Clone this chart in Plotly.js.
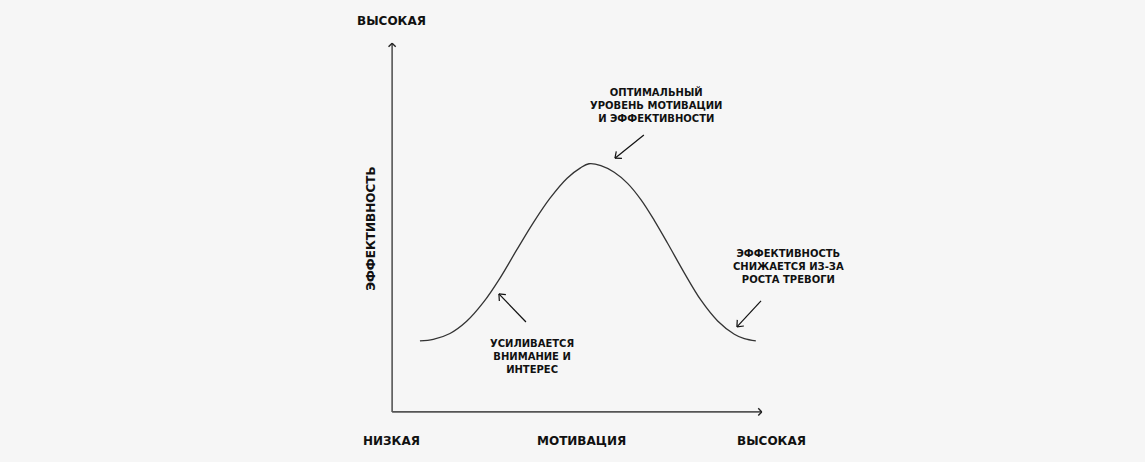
<!DOCTYPE html>
<html>
<head>
<meta charset="utf-8">
<script src="https://cdn.plot.ly/plotly-3.0.1.min.js"></script>
<style>html,body{margin:0;padding:0;background:#f6f6f6;}#chart{width:1145px;height:462px;}</style>
</head>
<body>
<div id="chart"></div>
<script>
// Curve: motivation (x) vs performance (y), 0-100 scale
const motivation = [7.5, 11.1, 15.6, 20.1, 24.6, 29.1, 33.6, 38.1, 42.6, 47.2, 50.8, 53.1, 56.3, 59.9, 63.5, 67.1, 70.7, 74.3, 78.8, 83.3, 87.8, 92.3, 95.0, 98.1];
const performance = [19.2, 19.6, 21.2, 24.5, 29.6, 36.2, 43.8, 51.2, 57.8, 63.2, 66.0, 67.1, 66.6, 64.8, 61.8, 57.4, 51.8, 45.6, 37.6, 30.2, 24.6, 21.0, 19.8, 19.2];

// Pointer arrows: tail -> tip
const arrowTailX = [67.9, 36.1, 99.5];
const arrowTailY = [74.9, 24.3, 30.0];
const arrowTipX = [60.1, 28.8, 93.0];
const arrowTipY = [68.6, 31.9, 23.0];

// Text labels
const yAxisTitle = 'ЭФФЕКТИВНОСТЬ';
const xAxisTitle = 'МОТИВАЦИЯ';
const lowLabel = 'НИЗКАЯ';
const highLabel = 'ВЫСОКАЯ';
const noteTexts = [
  'ОПТИМАЛЬНЫЙ<br>УРОВЕНЬ МОТИВАЦИИ<br>И ЭФФЕКТИВНОСТИ',
  'УСИЛИВАЕТСЯ<br>ВНИМАНИЕ И<br>ИНТЕРЕС',
  'ЭФФЕКТИВНОСТЬ<br>СНИЖАЕТСЯ ИЗ-ЗА<br>РОСТА ТРЕВОГИ'
];
const noteX = [71.2, 37.7, 107.0];
const noteY = [83.0, 14.9, 39.2];

const W = 1145, H = 462;
const R0 = -3, R1 = 103;
const sx = 3.71, sy = 3.7;           // px per unit
const mL = 392 + R0 * sx;            // x=0 at px 392
const pw = (R1 - R0) * sx;
const mR = W - mL - pw;
const mB = (H - 412) + R0 * sy;      // y=0 at px 412
const ph = (R1 - R0) * sy;
const mT = H - mB - ph;

// helper to build chevron arrow head segments (in data units, aspect-corrected)
function headSegs(x0, y0, x1, y1, len, ang) {
  const dx = (x1 - x0) * sx, dy = (y1 - y0) * sy;
  const L = Math.hypot(dx, dy);
  const ux = dx / L, uy = dy / L;
  const xs = [], ys = [];
  [ang, -ang].forEach(a => {
    const c = Math.cos(a), s = Math.sin(a);
    const bx = -(ux * c - uy * s), by = -(ux * s + uy * c);
    xs.push(x1, x1 + bx * len / sx, null);
    ys.push(y1, y1 + by * len / sy, null);
  });
  return [xs, ys];
}

const traces = [];
// axes lines
const axX = [0, 0, null, 0, 99.7];
const axY = [99.7, 0, null, 0, 0];
traces.push({x: axX, y: axY, mode: 'lines', line: {color: '#555', width: 1.6}, hoverinfo: 'skip', showlegend: false});
let h1 = headSegs(0, 0, 0, 99.7, 5, 0.8);
let h2 = headSegs(0, 0, 99.7, 0, 5, 0.8);
traces.push({x: h1[0].concat(h2[0]), y: h1[1].concat(h2[1]), mode: 'lines', line: {color: '#222', width: 1.4}, hoverinfo: 'skip', showlegend: false});

// curve
traces.push({x: motivation, y: performance, mode: 'lines', line: {color: '#333', width: 1.3, shape: 'spline', smoothing: 1}, hoverinfo: 'skip', showlegend: false});

// pointer arrows
let ax = [], ay = [];
for (let i = 0; i < arrowTailX.length; i++) {
  ax.push(arrowTailX[i], arrowTipX[i], null);
  ay.push(arrowTailY[i], arrowTipY[i], null);
  const h = headSegs(arrowTailX[i], arrowTailY[i], arrowTipX[i], arrowTipY[i], 7, 0.7);
  ax = ax.concat(h[0]); ay = ay.concat(h[1]);
}
traces.push({x: ax, y: ay, mode: 'lines', line: {color: '#111', width: 1.2}, hoverinfo: 'skip', showlegend: false});

const fontBig = {family: 'DejaVu Sans', size: 12, color: '#111', weight: 700};
const fontNote = {family: 'DejaVu Sans', size: 10, color: '#111', weight: 700};

const annotations = [
  {x: -0.3, y: 105.7, text: highLabel, font: fontBig},
  {x: -5.7, y: 49.5, text: yAxisTitle, font: fontBig, textangle: -90},
  {x: -0.3, y: -7.8, text: lowLabel, font: fontBig},
  {x: 51.2, y: -7.8, text: xAxisTitle, font: fontBig},
  {x: 102.4, y: -7.8, text: highLabel, font: fontBig}
];
for (let i = 0; i < noteTexts.length; i++) {
  annotations.push({x: noteX[i], y: noteY[i], text: noteTexts[i], font: fontNote, align: 'center'});
}
annotations.forEach(a => {
  a.x = (a.x - R0) / (R1 - R0); a.y = (a.y - R0) / (R1 - R0);
  a.xref = 'paper'; a.yref = 'paper'; a.showarrow = false; a.xanchor = 'center'; a.yanchor = 'middle';
});

const layout = {
  width: W, height: H,
  margin: {l: mL, r: mR, t: mT, b: mB, pad: 0},
  paper_bgcolor: '#f6f6f6', plot_bgcolor: '#f6f6f6',
  xaxis: {range: [R0, R1], visible: false, fixedrange: true},
  yaxis: {range: [R0, R1], visible: false, fixedrange: true},
  annotations: annotations,
  showlegend: false
};
Plotly.newPlot('chart', traces, layout, {displayModeBar: false, staticPlot: true});
</script>
</body>
</html>
